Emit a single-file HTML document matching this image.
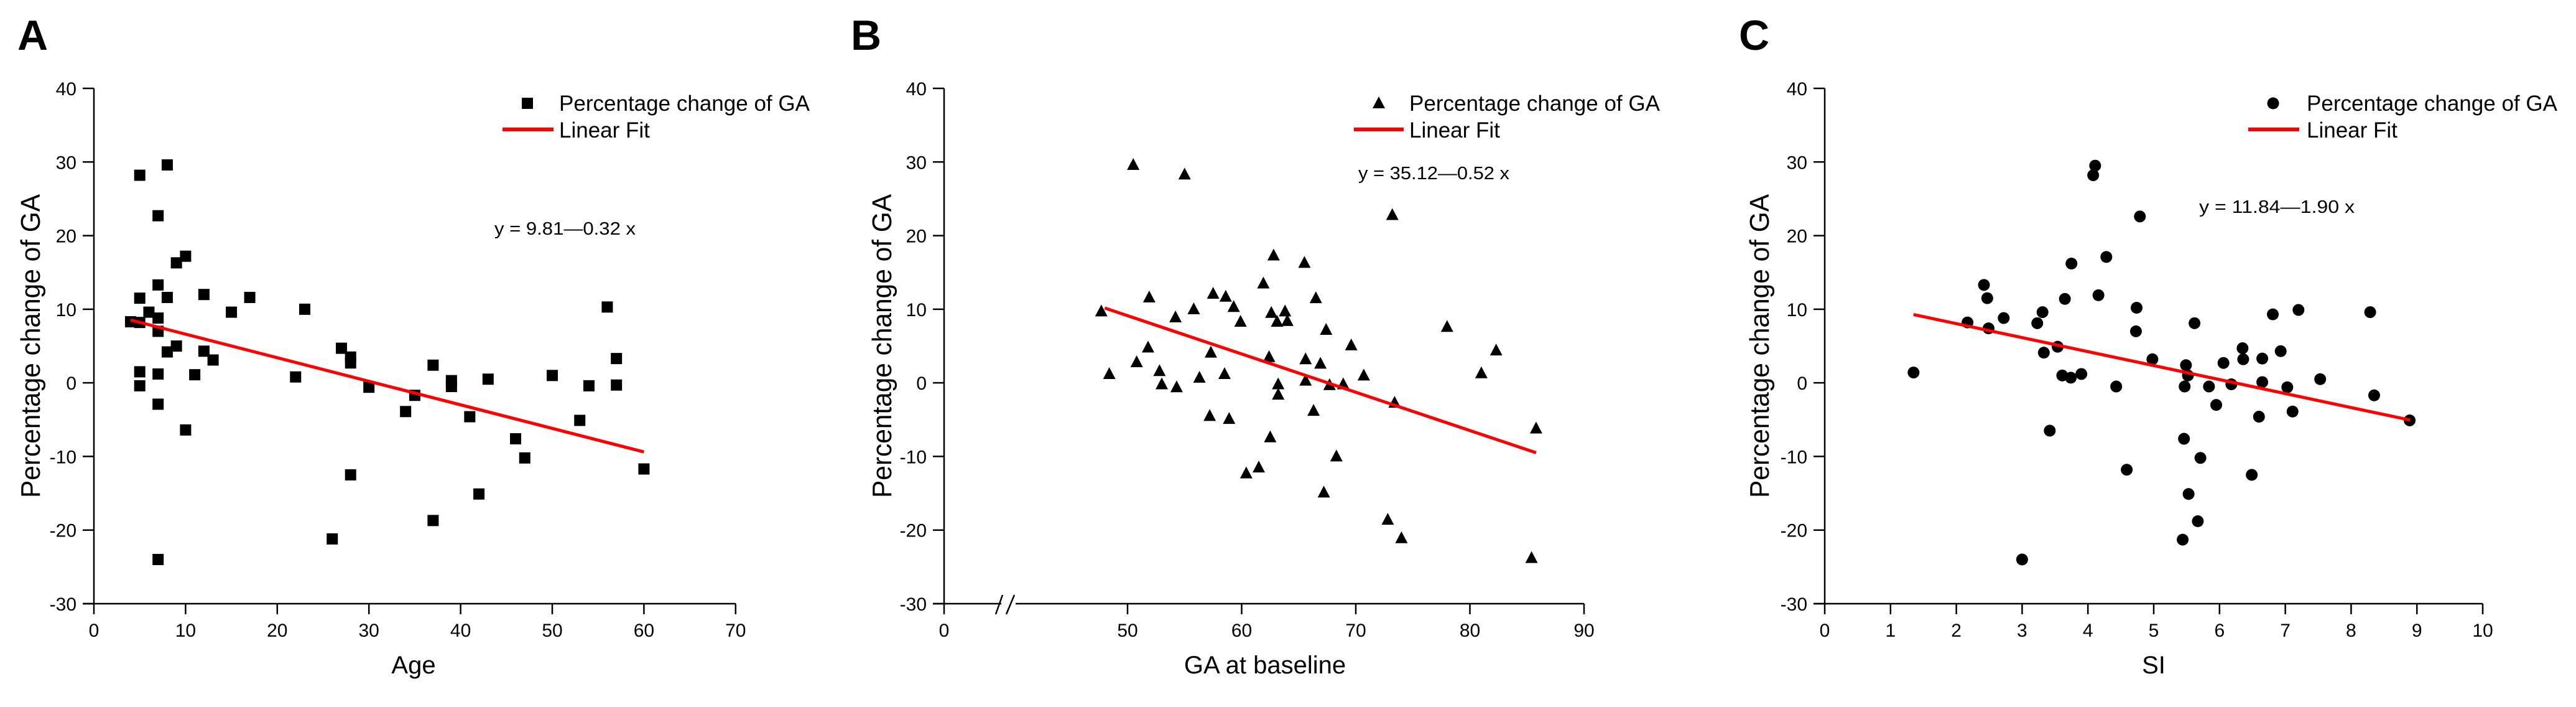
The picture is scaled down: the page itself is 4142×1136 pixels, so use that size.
<!DOCTYPE html>
<html><head><meta charset="utf-8"><style>
html,body{margin:0;padding:0;background:#fff;}
svg{display:block;font-family:"Liberation Sans",Arial,sans-serif;}
</style></head><body>
<svg id="fig" width="4142" height="1136" viewBox="0 0 4142 1136" xmlns="http://www.w3.org/2000/svg"></svg>
<script>
// Panel A data (Age)
const ageX = [4,5,5,5,5,5,6,7,7,7,7,7,7,7,8,8,8,9,9,10,10,11,12,12,13,15,17,22,23,26,27,28,28,28,30,34,35,37,37,39,39,41,42,43,46,47,50,53,54,56,57,57,60];
const ageY = [8.3,28.2,11.5,8.2,1.5,-0.4,9.6,22.7,13.3,8.8,7,1.2,-2.9,-24,29.6,11.6,4.2,16.3,5,17.2,-6.4,1.1,12,4.3,3.1,9.6,11.6,0.8,10,-21.2,4.7,3.5,2.7,-12.5,-0.6,-3.9,-1.7,2.4,-18.7,0.3,-0.5,-4.6,-15.1,0.5,-7.6,-10.2,1,-5.1,-0.4,10.3,3.3,-0.3,-11.7];
const fitA = [9.81, -0.32]; const fitRangeA = [4, 60];
// Panel B data (GA at baseline)
const gaX = [47.7,48.4,50.5,50.8,51.9,51.8,52.8,53,54.2,54.3,55,55.8,56.3,57.2,57.3,57.5,58.5,58.6,58.9,59.3,59.9,60.4,61.5,61.9,62.4,62.5,62.6,62.8,63.1,63.2,63.2,63.8,64,65.5,65.6,65.6,66.3,66.5,66.9,67.2,67.4,67.7,68.3,68.9,69.6,70.7,72.8,73.2,73.4,74,78,81,82.3,85.4,85.8];
const gaY = [9.7,1.2,29.6,2.8,11.6,4.8,1.6,-0.2,8.9,-0.6,28.3,10,0.7,-4.5,4.1,12.1,1.2,11.7,-4.9,10.3,8.3,-12.3,-11.5,13.5,3.5,-7.4,9.5,17.3,8.3,-0.2,-1.6,9.7,8.4,16.3,0.3,3.2,-3.8,11.5,2.6,-14.9,7.2,-0.3,-10,-0.2,5.1,1,-18.6,22.8,-2.7,-21.1,7.6,1.3,4.4,-23.8,-6.2];
const fitB = [35.12, -0.52]; const fitRangeB = [48, 85.8];
// Panel C data (SI)
const siX = [1.35,2.17,2.42,2.47,2.49,2.72,3,3.23,3.31,3.33,3.42,3.54,3.61,3.65,3.74,3.75,3.9,4.08,4.11,4.16,4.28,4.43,4.59,4.73,4.74,4.79,4.98,5.44,5.46,5.47,5.49,5.52,5.53,5.62,5.67,5.71,5.84,5.95,6.06,6.18,6.35,6.36,6.49,6.6,6.65,6.65,6.81,6.93,7.03,7.11,7.2,7.53,8.29,8.35,8.89];
const siY = [1.4,8.2,13.3,11.5,7.4,8.8,-24,8.1,9.6,4.1,-6.5,4.9,1,11.4,0.7,16.2,1.2,28.2,29.5,11.9,17.1,-0.5,-11.8,7,10.2,22.6,3.2,-21.3,-7.6,-0.5,2.4,1,-15.1,8.1,-18.8,-10.2,-0.5,-3,2.7,-0.2,4.7,3.2,-12.5,-4.6,3.3,0.1,9.3,4.3,-0.6,-3.9,9.9,0.5,9.6,-1.7,-5.1];
const fitC = [11.84, -1.90]; const fitRangeC = [1.35, 8.9];
const yTicks = [-30,-20,-10,0,10,20,30,40];
const xTicksA = [0,10,20,30,40,50,60,70];
const xTicksB = [0,50,60,70,80,90];
const xTicksC = [0,1,2,3,4,5,6,7,8,9,10];

const NS = "http://www.w3.org/2000/svg";
const svg = document.getElementById('fig');
function mk(tag, attrs, parent, text){
  const e = document.createElementNS(NS, tag);
  for (const k in attrs) e.setAttribute(k, attrs[k]);
  if (text !== undefined) e.textContent = text;
  (parent||svg).appendChild(e);
  return e;
}
const Y0 = 970, Y1 = 142; // -30 .. 40
function ys(v){ return Y0 - (v + 30) * (Y0 - Y1) / 70; }

function marker(g, kind, cx, cy){
  let m;
  if (kind === 'square') m = mk('rect', {x:cx-9, y:cy-9, width:18, height:18, fill:'#000'}, g);
  else if (kind === 'triangle') m = mk('polygon', {points:`${cx},${cy-11} ${cx-10},${cy+8} ${cx+10},${cy+8}`, fill:'#000'}, g);
  else m = mk('circle', {cx:cx, cy:cy, r:9.5, fill:'#000'}, g);
  return m;
}

function panel(p){
  const g = mk('g', {});
  
  
  const L = mk('text', {x:p.letterX, y:80, 'font-size':68, 'font-weight':'bold'}, g, p.letter);
  
  
  // axes
  const ax = mk('g', {stroke:'#000', 'stroke-width':2.5, fill:'none'}, g);
  
  
  mk('line', {x1:p.x0, y1:Y1, x2:p.x0, y2:Y0+1}, ax);
  if (p.brk){
    mk('line', {x1:p.x0-18, y1:Y0, x2:p.brk[0], y2:Y0}, ax);
    mk('line', {x1:p.brk[1], y1:Y0, x2:p.xEnd, y2:Y0}, ax);
    mk('line', {x1:p.brk[0]-9, y1:Y0+17, x2:p.brk[0]+2, y2:Y0-14}, ax);
    mk('line', {x1:p.brk[0]+8, y1:Y0+17, x2:p.brk[0]+21, y2:Y0-14}, ax);
  } else {
    mk('line', {x1:p.x0-18, y1:Y0, x2:p.xEnd, y2:Y0}, ax);
  }
  yTicks.forEach(v => {
    const y = ys(v);
    mk('line', {x1:p.x0-18, y1:y, x2:p.x0, y2:y}, ax);
    const t = mk('text', {x:p.x0-28, y:y+11, 'font-size':30, 'text-anchor':'end', fill:'#000', stroke:'none'}, g, String(v));
    
    
  });
  p.xt.forEach(v => {
    const x = p.xs(v);
    mk('line', {x1:x, y1:Y0, x2:x, y2:Y0+17}, ax);
    const t = mk('text', {x:x, y:1023, 'font-size':30, 'text-anchor':'middle', fill:'#000', stroke:'none'}, g, String(v));
    
    
  });
  const yt = mk('text', {x:0, y:0, 'font-size':44, 'text-anchor':'middle', textLength:488, lengthAdjust:'spacingAndGlyphs', transform:`translate(${p.yTitleX},556) rotate(-90)`}, g, 'Percentage change of GA');
  
  
  const xt = mk('text', {x:p.xTitleX, y:1082, 'font-size':40, 'text-anchor':'middle'}, g, p.xTitle);
  
  
  // points
  const pg = mk('g', {}, g);
  
  
  p.xs_data.forEach((xv, i) => {
    const m = marker(pg, p.kind, p.xs(xv), ys(p.ys_data[i]));
    
    
  });
  // fit line
  const f = p.fit, r = p.fitRange;
  const fl = mk('line', {x1:p.xs(r[0]), y1:ys(f[0]+f[1]*r[0]), x2:p.xs(r[1]), y2:ys(f[0]+f[1]*r[1]), stroke:'#ff0000', 'stroke-width':5}, g);
  
  
  // equation
  const eq = mk('text', {x:p.eqX, y:p.eqY, 'font-size':29, textLength:p.eqW, lengthAdjust:'spacingAndGlyphs'}, g,
    'y = ' + f[0].toFixed(2) + '\u2014' + Math.abs(f[1]).toFixed(2) + ' x');
  
  
  // legend
  const lg = mk('g', {}, g);
  
  
  const lm = marker(lg, p.kind, p.legM, 166);
  
  
  const lt1 = mk('text', {x:p.legT, y:178, 'font-size':35, textLength:403, lengthAdjust:'spacingAndGlyphs'}, lg, 'Percentage change of GA');
  
  
  const ll = mk('line', {x1:p.legL[0], y1:208, x2:p.legL[1], y2:208, stroke:'#ff0000', 'stroke-width':6}, lg);
  
  
  const lt2 = mk('text', {x:p.legT, y:221, 'font-size':35}, lg, 'Linear Fit');
  
  
}

panel({id:'a', letter:'A', letterX:28, x0:151, xEnd:1183, xs:v=>151+v*14.74, xt:xTicksA,
  yTitleX:64, xTitleX:665, xTitle:'Age', kind:'square', xs_data:ageX, ys_data:ageY,
  fit:fitA, fitRange:fitRangeA, eqX:795, eqY:377, eqW:227, legM:848, legT:899, legL:[808,890]});
panel({id:'b', letter:'B', letterX:1368, x0:1518, xEnd:2547, brk:[1610,1633],
  xs:v=> v<=0 ? 1518 : 1813 + (v-50)*18.35, xt:xTicksB,
  yTitleX:1433, xTitleX:2034, xTitle:'GA at baseline', kind:'triangle', xs_data:gaX, ys_data:gaY,
  fit:fitB, fitRange:fitRangeB, eqX:2184, eqY:288, eqW:243, legM:2217, legT:2266, legL:[2177,2257]});
panel({id:'c', letter:'C', letterX:2796, x0:2934, xEnd:3992, xs:v=>2934+v*105.8, xt:xTicksC,
  yTitleX:2844, xTitleX:3463, xTitle:'SI', kind:'circle', xs_data:siX, ys_data:siY,
  fit:fitC, fitRange:fitRangeC, eqX:3536, eqY:342, eqW:250, legM:3655, legT:3709, legL:[3615,3697]});
</script>
</body></html>
